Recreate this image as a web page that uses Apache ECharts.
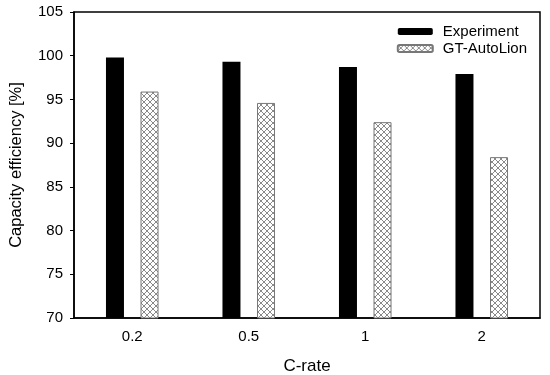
<!DOCTYPE html>
<html>
<head>
<meta charset="utf-8">
<script src="https://cdn.jsdelivr.net/npm/echarts@6/dist/echarts.min.js"></script>
<style>html,body{margin:0;padding:0;background:#fff}#c{width:550px;height:375px}</style>
</head>
<body>
<div id="c"></div>
<script>
const categories = ['0.2', '0.5', '1', '2'];
const experiment = [99.8, 99.3, 98.7, 97.9];
const gtAutoLion = [95.9, 94.6, 92.4, 88.4];
const yTicks = [70, 75, 80, 85, 90, 95, 100, 105];

function makePattern() {
  const s = 6;
  const cv = document.createElement('canvas');
  cv.width = s; cv.height = s;
  const ctx = cv.getContext('2d');
  ctx.fillStyle = '#fff';
  ctx.fillRect(0, 0, s, s);
  ctx.strokeStyle = '#8a8a8a';
  ctx.lineWidth = 1;
  ctx.beginPath();
  ctx.moveTo(0, 0); ctx.lineTo(s, s);
  ctx.moveTo(s, 0); ctx.lineTo(0, s);
  ctx.stroke();
  return cv;
}

const chart = echarts.init(document.getElementById('c'));
const font = 'Liberation Sans, Arial, sans-serif';
chart.setOption({
  animation: false,
  backgroundColor: '#fff',
  textStyle: { fontFamily: font, color: '#000' },
  grid: { left: 74, right: 10, top: 12, bottom: 57, show: true, borderColor: '#000', borderWidth: 1.5,
          containLabel: false, outerBoundsMode: 'none' },
  legend: {
    orient: 'vertical', right: 18, top: 19, itemWidth: 35, itemHeight: 7, itemGap: 2,
    textStyle: { fontFamily: font, fontSize: 15, color: '#000', padding: [0, 0, 0, 5] },
    data: ['Experiment', 'GT-AutoLion']
  },
  xAxis: {
    type: 'category', data: categories,
    name: 'C-rate', nameLocation: 'middle', nameGap: 40,
    nameTextStyle: { fontFamily: font, fontSize: 17, color: '#000' },
    axisLine: { lineStyle: { color: '#000', width: 1.5 } },
    axisTick: { alignWithLabel: true, length: 4, lineStyle: { color: '#000' } },
    axisLabel: { fontFamily: font, fontSize: 15, color: '#000', margin: 11 }
  },
  yAxis: {
    type: 'value', min: yTicks[0], max: yTicks[yTicks.length - 1], interval: 5,
    name: 'Capacity efficiency [%]', nameLocation: 'middle', nameGap: 49,
    nameTextStyle: { fontFamily: font, fontSize: 16.5, color: '#000' },
    axisLine: { show: true, lineStyle: { color: '#000', width: 1.5 } },
    axisTick: { show: true, length: 4, lineStyle: { color: '#000' } },
    axisLabel: { fontFamily: font, fontSize: 15, color: '#000', margin: 11 },
    splitLine: { show: false }
  },
  series: [
    { name: 'Experiment', type: 'bar', data: experiment, barWidth: 18, barGap: '92%',
      itemStyle: { color: '#000' } },
    { name: 'GT-AutoLion', type: 'bar', data: gtAutoLion, barWidth: 18,
      itemStyle: { color: { image: makePattern(), repeat: 'repeat' }, borderColor: '#777', borderWidth: 1 } }
  ]
});
</script>
</body>
</html>
